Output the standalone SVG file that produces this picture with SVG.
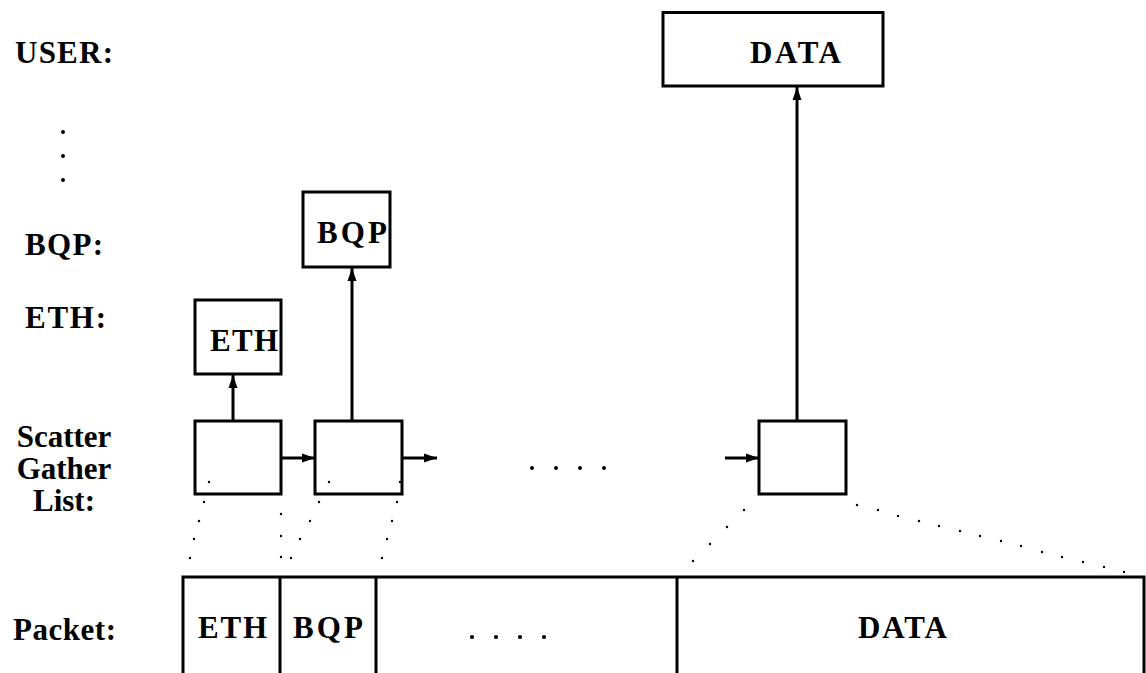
<svg xmlns="http://www.w3.org/2000/svg" width="1146" height="673" viewBox="0 0 1146 673">
<style>
text{font-family:"Liberation Serif","DejaVu Serif",serif;font-weight:bold;font-size:31px;fill:#000}
.box{fill:#fff;stroke:#000;stroke-width:3}
.ln{stroke:#000;stroke-width:3;fill:none}
.arr{stroke:#000;stroke-width:3;fill:none;marker-end:url(#ah)}
.d{fill:#000}
</style>
<defs>
<marker id="ah" markerUnits="userSpaceOnUse" markerWidth="14" markerHeight="11" refX="13" refY="5.5" orient="auto">
<path d="M0,1 L13,5.5 L0,10 z" fill="#000"/>
</marker>
</defs>
<g id="labels">
<text x="15" y="63" textLength="98">USER:</text>
<g id="vdots" class="d"><circle cx="63" cy="132" r="2"/><circle cx="63" cy="156" r="2"/><circle cx="63" cy="180" r="2"/></g>
<text x="25" y="255" textLength="78">BQP:</text>
<text x="25" y="328" textLength="81">ETH:</text>
<text x="64" y="447" text-anchor="middle">Scatter</text>
<text x="64" y="479" text-anchor="middle">Gather</text>
<text x="64" y="511" text-anchor="middle">List:</text>
<text x="13" y="640" textLength="103">Packet:</text>
</g>
<g id="node-data-user">
<rect class="box" x="663" y="12.5" width="220" height="73.5"/>
<text x="750" y="63" textLength="91">DATA</text>
</g>
<g id="node-bqp">
<rect class="box" x="303" y="192" width="87" height="75"/>
<text x="317" y="243" textLength="70">BQP</text>
</g>
<g id="node-eth">
<rect class="box" x="195" y="300" width="86" height="74"/>
<text x="210" y="351" textLength="68">ETH</text>
</g>
<g id="node-sg1"><rect class="box" x="195" y="421" width="86" height="73"/></g>
<g id="node-sg2"><rect class="box" x="315" y="421" width="87" height="73"/></g>
<g id="node-sg3"><rect class="box" x="759" y="421" width="87" height="73"/></g>
<g id="node-packet">
<path class="ln" d="M183,673 V577 H1144 V673"/>
<path class="ln" d="M280,577 V673 M376,577 V673 M677,577 V673"/>
<text x="198" y="638" textLength="69">ETH</text>
<text x="293" y="638" textLength="70">BQP</text>
<g class="d"><circle cx="472" cy="637" r="2"/><circle cx="496" cy="637" r="2"/><circle cx="520" cy="637" r="2"/><circle cx="544" cy="637" r="2"/></g>
<text x="858" y="638" textLength="89">DATA</text>
</g>
<g id="ellipsis" class="d"><circle cx="532" cy="468" r="2"/><circle cx="556" cy="468" r="2"/><circle cx="580" cy="468" r="2"/><circle cx="604" cy="468" r="2"/></g>
<g id="connectors">
<line class="arr" x1="233" y1="421" x2="233" y2="375"/>
<line class="arr" x1="352" y1="421" x2="352" y2="268"/>
<line class="arr" x1="797" y1="421" x2="797" y2="87"/>
<line class="arr" x1="281" y1="458" x2="315" y2="458"/>
<line class="arr" x1="402" y1="458" x2="437" y2="458"/>
<line class="arr" x1="725" y1="458" x2="759" y2="458"/>
<g id="dotted" class="d">
<circle cx="209" cy="482" r="1.2"/><circle cx="204" cy="502" r="1.2"/><circle cx="199" cy="521" r="1.2"/><circle cx="194" cy="539" r="1.2"/><circle cx="190" cy="558" r="1.2"/>
<circle cx="281" cy="514" r="1.2"/><circle cx="281" cy="536" r="1.2"/><circle cx="281" cy="557" r="1.2"/>
<circle cx="329" cy="482" r="1.2"/><circle cx="319" cy="502" r="1.2"/><circle cx="310" cy="521" r="1.2"/><circle cx="300" cy="539" r="1.2"/><circle cx="291" cy="558" r="1.2"/>
<circle cx="400" cy="482" r="1.2"/><circle cx="397" cy="502" r="1.2"/><circle cx="392" cy="521" r="1.2"/><circle cx="387" cy="539" r="1.2"/><circle cx="382" cy="558" r="1.2"/>
<circle cx="744" cy="510" r="1.2"/><circle cx="727" cy="527" r="1.2"/><circle cx="710" cy="544" r="1.2"/><circle cx="693" cy="561" r="1.2"/>
<circle cx="857" cy="505" r="1.2"/><circle cx="878" cy="510" r="1.2"/><circle cx="898" cy="516" r="1.2"/><circle cx="919" cy="521" r="1.2"/><circle cx="939" cy="526" r="1.2"/><circle cx="960" cy="531" r="1.2"/><circle cx="980" cy="536" r="1.2"/><circle cx="1001" cy="541" r="1.2"/><circle cx="1021" cy="546" r="1.2"/><circle cx="1042" cy="552" r="1.2"/><circle cx="1062" cy="557" r="1.2"/><circle cx="1083" cy="562" r="1.2"/><circle cx="1104" cy="567" r="1.2"/><circle cx="1124" cy="572" r="1.2"/>
</g>
</g>
</svg>
